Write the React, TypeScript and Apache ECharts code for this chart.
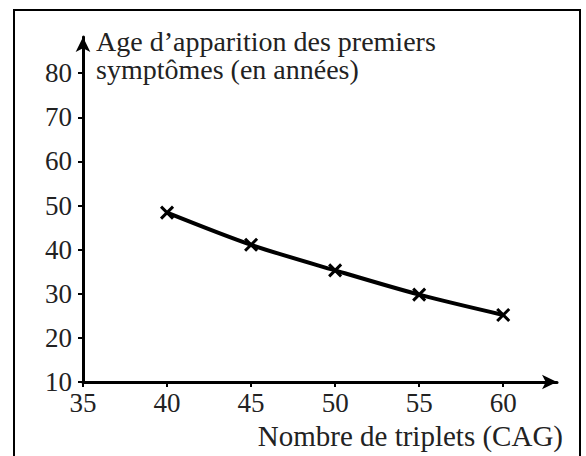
import React, { useEffect, useRef } from "react";
import * as echarts from "echarts";

const xValues = [40, 45, 50, 55, 60];
const ages = [48.4, 41.1, 35.3, 29.8, 25.2];
const xTicks = [35, 40, 45, 50, 55, 60];
const yTicks = [10, 20, 30, 40, 50, 60, 70, 80];
const yName = "Age d\u2019apparition des premiers\nsymptômes (en années)";
const xName = "Nombre de triplets (CAG)";

const FONT = "Liberation Serif";
const TEXT = "#222222";

export default function App() {
  const ref = useRef<HTMLDivElement>(null);
  useEffect(() => {
    if (!ref.current) return;
    const chart = echarts.init(ref.current, undefined, { renderer: "svg" });
    chart.setOption({
      animation: false,
      backgroundColor: "#ffffff",
      graphic: [
        {
          type: "rect",
          shape: { x: 14, y: 10, width: 566, height: 470 },
          style: { fill: "none", stroke: "#000", lineWidth: 2 },
          silent: true,
        },
      ],
      grid: { left: 83, top: 37, right: 29, bottom: 74, containLabel: false },
      xAxis: {
        type: "value",
        min: 35,
        max: 63.2,
        name: xName,
        nameLocation: "end",
        nameGap: 6,
        nameTextStyle: {
          fontFamily: FONT,
          fontSize: 29,
          color: TEXT,
          align: "right",
          verticalAlign: "top",
          padding: [39, 0, 0, 0],
        },
        splitLine: { show: false },
        axisLine: {
          show: true,
          lineStyle: { color: "#000", width: 3 },
          symbol: ["none", "arrow"],
          symbolSize: [11, 15],
        },
        axisTick: { show: true, inside: false, length: 5, lineStyle: { color: "#000", width: 2 }, customValues: xTicks },
        axisLabel: { fontFamily: FONT, fontSize: 27, color: TEXT, margin: 7, customValues: xTicks },
      },
      yAxis: {
        type: "value",
        min: 10,
        max: 88.2,
        name: yName,
        nameLocation: "end",
        nameGap: -18,
        nameTextStyle: {
          fontFamily: FONT,
          fontSize: 28,
          lineHeight: 28,
          color: TEXT,
          align: "left",
          verticalAlign: "middle",
          padding: [0, 0, 0, 13],
        },
        splitLine: { show: false },
        axisLine: {
          show: true,
          lineStyle: { color: "#000", width: 3 },
          symbol: ["none", "arrow"],
          symbolSize: [11, 15],
        },
        axisTick: { show: true, inside: false, length: 5, lineStyle: { color: "#000", width: 2 }, customValues: yTicks },
        axisLabel: { fontFamily: FONT, fontSize: 27, color: TEXT, margin: 11, customValues: yTicks },
      },
      series: [
        {
          type: "line",
          smooth: 0.3,
          data: xValues.map((x, i) => [x, ages[i]]),
          lineStyle: { color: "#000", width: 4 },
          symbol: "path://M0,0L10,10M10,0L0,10",
          symbolSize: 12,
          itemStyle: { color: "none", borderColor: "#000", borderWidth: 3 },
          z: 3,
        },
      ],
    });
    return () => chart.dispose();
  }, []);
  return (
    <div
      ref={ref}
      style={{ position: "absolute", left: 0, top: 0, width: 586, height: 456 }}
    />
  );
}
